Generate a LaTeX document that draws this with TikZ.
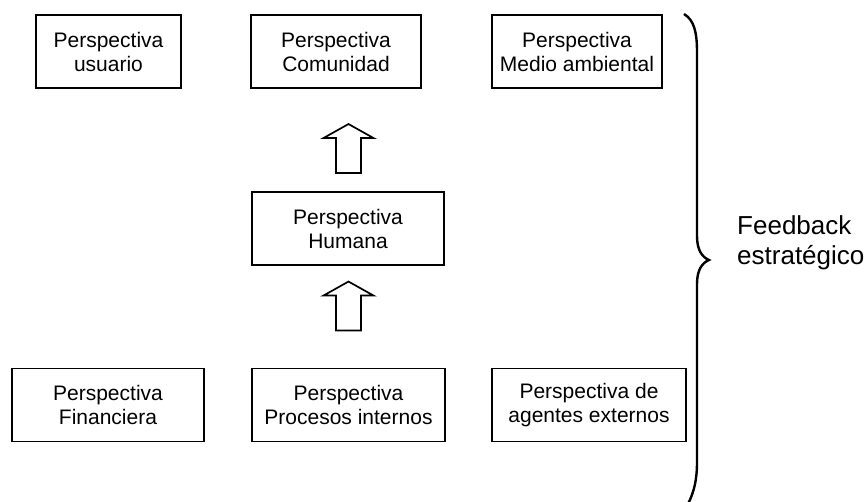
\documentclass[tikz,border=0pt]{standalone}
\usepackage{fontspec}
\setmainfont{Liberation Sans}
\usetikzlibrary{calc}
\tikzset{
  pbox/.style={draw, line width=1.9pt, align=center, inner sep=0pt,
    minimum height=73pt, font=\fontsize{21}{24}\selectfont},
  bigtext/.style={anchor=base west, inner sep=0pt, font=\fontsize{26}{30}\selectfont},
  blockarrow/.style={draw, line width=1.7pt, line join=miter},
  uparrow/.pic={\draw[blockarrow] (-12.5,0) -- (-12.5,-35) -- (-25,-35) -- (0,-49) -- (25,-35) -- (12.5,-35) -- (12.5,0) -- cycle;},
}
\begin{document}
\begin{tikzpicture}[x=1pt,y=-1pt]
\useasboundingbox (0,0) rectangle (866,502);
\node[pbox, minimum width=145pt] (usu) at (108.5,51.5) {Perspectiva\\usuario};
\node[pbox, minimum width=170pt] (com) at (336,51.5) {Perspectiva\\Comunidad};
\node[pbox, minimum width=170pt] (med) at (577,51.5) {Perspectiva\\Medio ambiental};
\node[pbox, minimum width=192pt] (hum) at (348,228.5) {Perspectiva\\Humana};
\node[pbox, minimum width=192pt] (fin) at (108,405) {Perspectiva\\Financiera};
\node[pbox, minimum width=193pt] (pro) at (348.5,405) {Perspectiva\\Procesos internos};
\node[pbox, minimum width=194pt] (age) at (589,405) {Perspectiva de\\agentes externos};
\pic at ($(hum.north)+(0.5,-18)$) {uparrow};
\pic at ($(pro.north)+(0,-37)$) {uparrow};
\draw[line width=2.4pt] (684,14) .. controls (694,20) and (697,32) .. (697,52)
  -- (697,236) .. controls (697,250) and (702,257) .. (709,260)
  .. controls (702,263) and (697,270) .. (697,284)
  -- (697,462) .. controls (697,480) and (694,492) .. (688,504);
\node[bigtext] (fb1) at (737,235) {Feedback};
\node[bigtext] (fb2) at (737,265) {estratégico};
\end{tikzpicture}
\end{document}
